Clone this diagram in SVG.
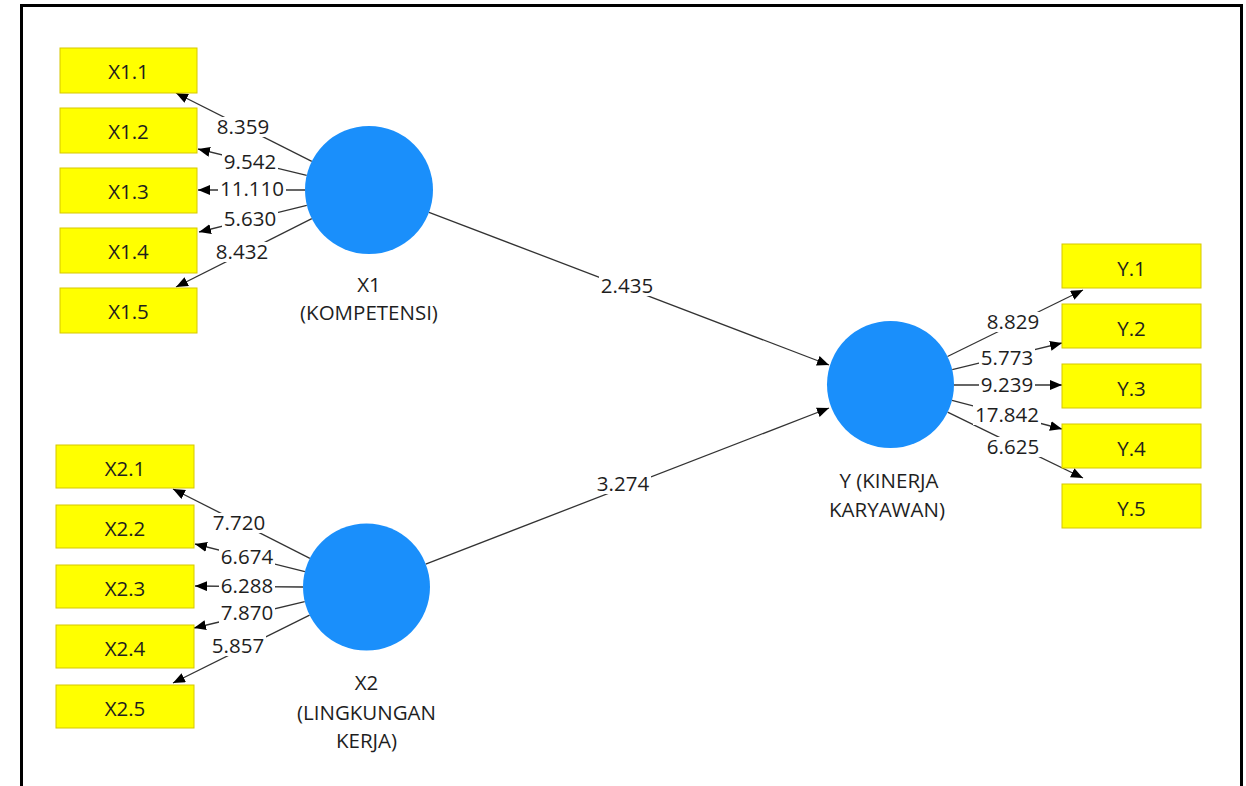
<svg xmlns="http://www.w3.org/2000/svg" width="1246" height="786" viewBox="0 0 1246 786">
<defs>
<marker id="ah" markerUnits="userSpaceOnUse" markerWidth="13" markerHeight="11" refX="12" refY="5" orient="auto">
<path d="M0,0 L12,5 L0,10 z" fill="#000"/>
</marker>
<style>
.ind{fill:#ffff00;stroke:#d6c800;stroke-width:1}
.lat{fill:#1a8ffb}
.t{font-family:"Open Sans","Noto Sans",sans-serif;font-size:20.5px;fill:#1e1e1e;text-anchor:middle}
.ln{stroke:#333;stroke-width:1.3;fill:none;marker-end:url(#ah)}
.bg{fill:#fff}
</style>
</defs>
<rect x="0" y="0" width="1246" height="786" fill="#fff"/>
<path d="M21.5,786 V5.5 H1241.5 V786" fill="none" stroke="#000" stroke-width="3"/>

<g id="connectors">
<line class="ln" x1="311.8" y1="161.3" x2="176" y2="93"/>
<line class="ln" x1="306.7" y1="175.4" x2="198" y2="149"/>
<line class="ln" x1="305" y1="190" x2="198" y2="190"/>
<line class="ln" x1="306.8" y1="205.4" x2="199" y2="232"/>
<line class="ln" x1="311.8" y1="218.7" x2="176" y2="287"/>

<line class="ln" x1="309.9" y1="558.3" x2="173" y2="489"/>
<line class="ln" x1="304.9" y1="571.6" x2="195" y2="544"/>
<line class="ln" x1="303" y1="587" x2="195" y2="586"/>
<line class="ln" x1="304.7" y1="601.7" x2="194" y2="628"/>
<line class="ln" x1="309.6" y1="615.2" x2="173" y2="683"/>

<line class="ln" x1="947.5" y1="356.5" x2="1083" y2="290"/>
<line class="ln" x1="952.2" y1="369.6" x2="1062" y2="343"/>
<line class="ln" x1="954" y1="385" x2="1062" y2="385"/>
<line class="ln" x1="952" y1="400.4" x2="1062" y2="429"/>
<line class="ln" x1="947.6" y1="412.2" x2="1083" y2="478"/>

<line class="ln" x1="429" y1="212.3" x2="829" y2="365"/>
<line class="ln" x1="425.7" y1="564.1" x2="829" y2="408"/>

<g id="connector-labels">
<rect class="bg" x="215" y="117" width="56" height="20"/><text class="t" x="243" y="134">8.359</text>
<rect class="bg" x="222" y="152" width="56" height="20"/><text class="t" x="250" y="169">9.542</text>
<rect class="bg" x="218" y="179" width="68" height="20"/><text class="t" x="252" y="196">11.110</text>
<rect class="bg" x="222" y="209" width="56" height="20"/><text class="t" x="250" y="226">5.630</text>
<rect class="bg" x="214" y="242" width="56" height="20"/><text class="t" x="242" y="259">8.432</text>

<rect class="bg" x="211" y="513" width="56" height="20"/><text class="t" x="239" y="530">7.720</text>
<rect class="bg" x="219" y="547" width="56" height="20"/><text class="t" x="247" y="564">6.674</text>
<rect class="bg" x="219" y="576" width="56" height="20"/><text class="t" x="247" y="593">6.288</text>
<rect class="bg" x="219" y="603" width="56" height="20"/><text class="t" x="247" y="620">7.870</text>
<rect class="bg" x="210" y="636" width="56" height="20"/><text class="t" x="238" y="653">5.857</text>

<rect class="bg" x="985" y="312" width="56" height="20"/><text class="t" x="1013" y="329">8.829</text>
<rect class="bg" x="979" y="348" width="56" height="20"/><text class="t" x="1007" y="365">5.773</text>
<rect class="bg" x="979" y="375" width="56" height="20"/><text class="t" x="1007" y="392">9.239</text>
<rect class="bg" x="973" y="405" width="68" height="20"/><text class="t" x="1007" y="422">17.842</text>
<rect class="bg" x="985" y="437" width="56" height="20"/><text class="t" x="1013" y="454">6.625</text>

<rect class="bg" x="599" y="276" width="56" height="20"/><text class="t" x="627" y="293">2.435</text>
<rect class="bg" x="595" y="474" width="56" height="20"/><text class="t" x="623" y="491">3.274</text>
</g>
</g>

<g id="X1.1"><rect class="ind" x="60" y="48" width="137" height="45"/><text class="t" x="128.5" y="79">X1.1</text></g>
<g id="X1.2"><rect class="ind" x="60" y="108" width="137" height="45"/><text class="t" x="128.5" y="139">X1.2</text></g>
<g id="X1.3"><rect class="ind" x="60" y="168" width="137" height="45"/><text class="t" x="128.5" y="199">X1.3</text></g>
<g id="X1.4"><rect class="ind" x="60" y="228" width="137" height="45"/><text class="t" x="128.5" y="259">X1.4</text></g>
<g id="X1.5"><rect class="ind" x="60" y="288" width="137" height="45"/><text class="t" x="128.5" y="319">X1.5</text></g>

<g id="X2.1"><rect class="ind" x="56" y="445" width="138" height="43"/><text class="t" x="125" y="476">X2.1</text></g>
<g id="X2.2"><rect class="ind" x="56" y="505" width="138" height="43"/><text class="t" x="125" y="536">X2.2</text></g>
<g id="X2.3"><rect class="ind" x="56" y="565" width="138" height="43"/><text class="t" x="125" y="596">X2.3</text></g>
<g id="X2.4"><rect class="ind" x="56" y="625" width="138" height="43"/><text class="t" x="125" y="656">X2.4</text></g>
<g id="X2.5"><rect class="ind" x="56" y="685" width="138" height="43"/><text class="t" x="125" y="716">X2.5</text></g>

<g id="Y.1"><rect class="ind" x="1062" y="244" width="139" height="44"/><text class="t" x="1131.5" y="276">Y.1</text></g>
<g id="Y.2"><rect class="ind" x="1062" y="304" width="139" height="44"/><text class="t" x="1131.5" y="336">Y.2</text></g>
<g id="Y.3"><rect class="ind" x="1062" y="364" width="139" height="44"/><text class="t" x="1131.5" y="396">Y.3</text></g>
<g id="Y.4"><rect class="ind" x="1062" y="424" width="139" height="44"/><text class="t" x="1131.5" y="456">Y.4</text></g>
<g id="Y.5"><rect class="ind" x="1062" y="484" width="139" height="44"/><text class="t" x="1131.5" y="516">Y.5</text></g>

<g id="X1"><circle class="lat" cx="369" cy="190" r="64"/><text class="t" x="369" y="292">X1</text><text class="t" x="369" y="320">(KOMPETENSI)</text></g>
<g id="X2"><circle class="lat" cx="366.5" cy="587" r="63.5"/><text class="t" x="366.5" y="690">X2</text><text class="t" x="366.5" y="720">(LINGKUNGAN</text><text class="t" x="366.5" y="748">KERJA)</text></g>
<g id="Y"><circle class="lat" cx="890.5" cy="384.5" r="63.5"/><text class="t" x="889" y="488">Y (KINERJA</text><text class="t" x="887" y="517">KARYAWAN)</text></g>
</svg>
